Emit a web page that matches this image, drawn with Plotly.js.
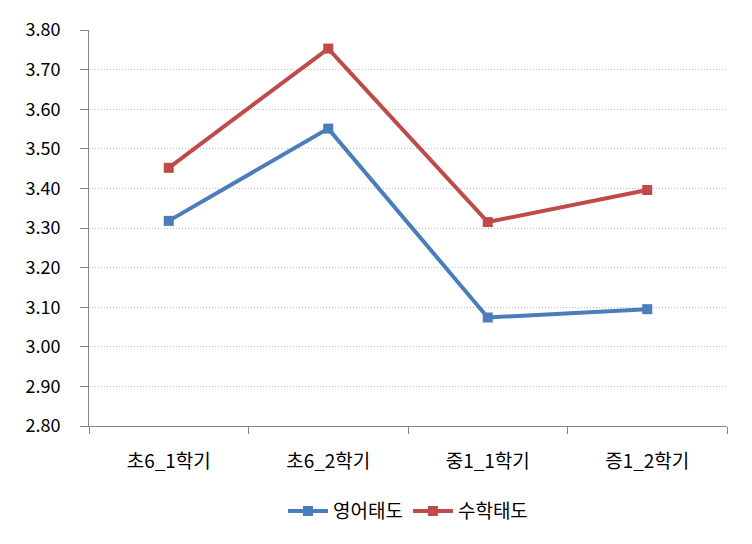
<!DOCTYPE html>
<html>
<head>
<meta charset="utf-8">
<script src="https://cdn.plot.ly/plotly-3.0.1.min.js"></script>
<style>html,body{margin:0;padding:0;background:#fff;}#chart{width:752px;height:544px;}</style>
</head>
<body>
<div id="chart"></div>
<script>
const categories = ["초6_1학기", "초6_2학기", "중1_1학기", "증1_2학기"];
const englishAttitude = [3.318, 3.551, 3.074, 3.095];
const mathAttitude = [3.452, 3.753, 3.315, 3.396];
const yTickValues = [2.8, 2.9, 3.0, 3.1, 3.2, 3.3, 3.4, 3.5, 3.6, 3.7, 3.8];
const yTickLabels = ["2.80", "2.90", "3.00", "3.10", "3.20", "3.30", "3.40", "3.50", "3.60", "3.70", "3.80"];
const seriesNames = ["영어태도", "수학태도"];

const FONT = "'Noto Sans CJK KR', 'Noto Sans', sans-serif";

const traces = [
  {x: categories, y: englishAttitude, name: seriesNames[0], type: "scatter", mode: "lines+markers",
   line: {color: "#4a7ebb", width: 4}, marker: {symbol: "square", size: 10, color: "#4a7ebb"}},
  {x: categories, y: mathAttitude, name: seriesNames[1], type: "scatter", mode: "lines+markers",
   line: {color: "#be4b48", width: 4}, marker: {symbol: "square", size: 10, color: "#be4b48"}}
];

const layout = {
  width: 752, height: 544,
  margin: {l: 89, r: 25, t: 30, b: 118},
  paper_bgcolor: "#fff", plot_bgcolor: "#fff",
  font: {family: FONT, size: 18, color: "#000"},
  showlegend: true,
  legend: {orientation: "h", x: 0.5, xanchor: "center", y: -0.215, yanchor: "middle",
           font: {family: FONT, size: 19, color: "#000"}, itemwidth: 40, tracegroupgap: 0},
  xaxis: {type: "category", range: [-0.5, 3.5], tickson: "boundaries", ticks: "outside", ticklen: 7,
          tickcolor: "#868686", tickwidth: 1, showline: true, linecolor: "#868686", linewidth: 1,
          showgrid: false, zeroline: false, fixedrange: true,
          tickfont: {family: FONT, size: 19, color: "#000"}, ticklabelstandoff: 18},
  yaxis: {range: [2.8, 3.8], tickvals: yTickValues, ticktext: yTickLabels, ticks: "outside", ticklen: 8,
          tickcolor: "#868686", tickwidth: 1, showline: true, linecolor: "#868686", linewidth: 1,
          showgrid: true, gridcolor: "#c0c0c0", griddash: "1px,2px", gridwidth: 1, zeroline: false,
          tickfont: {family: FONT, size: 18, color: "#000"}, ticklabelstandoff: 16}
};

Plotly.newPlot("chart", traces, layout, {displayModeBar: false, staticPlot: true});
</script>
</body>
</html>
